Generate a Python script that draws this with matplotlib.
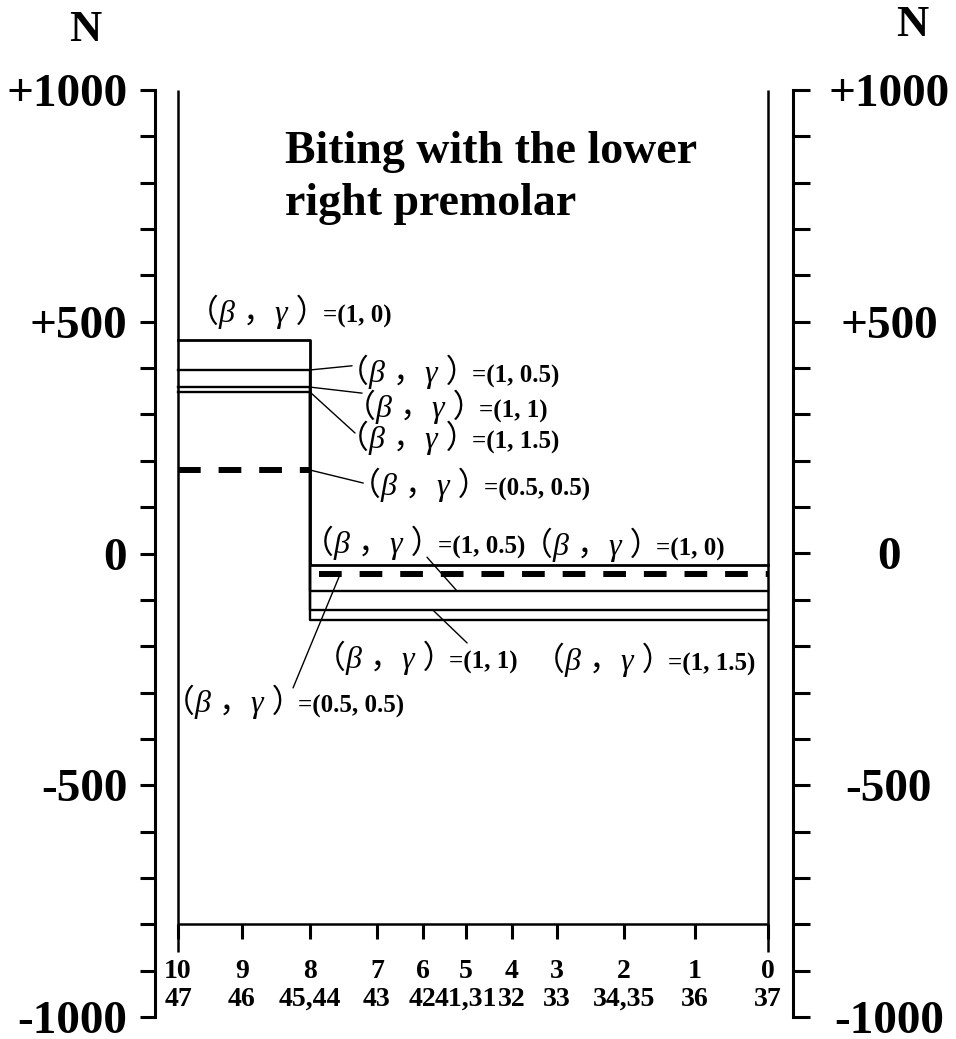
import matplotlib
matplotlib.use('Agg')
import matplotlib.pyplot as plt

plt.rcParams['font.family'] = ['Liberation Serif', 'DejaVu Serif']
plt.rcParams['font.weight'] = 'bold'

# teeth along the lower arch: contact number, tooth id, position (0..100)
tooth_no = [10, 9, 8, 7, 6, 5, 4, 3, 2, 1, 0]
tooth_id = ['47', '46', '45,44', '43', '42', '41,31', '32', '33', '34,35', '36', '37']
arch_pos = [0, 10.8, 22.4, 33.7, 41.5, 48.8, 56.6, 64.2, 75.6, 87.6, 100]

# (beta, gamma) cases; N on the loaded side of tooth 8 and on the other side
cases = ['(1, 0)', '(1, 0.5)', '(1, 1)', '(1, 1.5)', '(0.5, 0.5)']
n_left = [460, 396, 359, 348, 180]
n_right = [-25, -81, -122, -143, -44]

y_ticks = list(range(-1000, 1001, 100))
y_names = {1000: '+1000', 500: '+500', 0: '0', -500: '-500', -1000: '-1000'}

W, H = 956, 1039
fig = plt.figure(figsize=(W / 100, H / 100), dpi=100)
ax = fig.add_axes([155 / W, 1 - 1017 / H, (793 - 155) / W, (1017 - 90) / H])
ax.set_xlim(-3.9, 104.24)
ax.set_ylim(-1000, 1000)

for s in ['top', 'right']:
    ax.spines[s].set_visible(False)
ax.spines['left'].set_linewidth(2.2)
ax.spines['bottom'].set_position(('data', -800))
ax.spines['bottom'].set_visible(False)

ax.set_yticks(y_ticks)
ax.set_yticklabels([y_names.get(v, '') for v in y_ticks])
ax.tick_params(axis='y', direction='out', length=11, width=2.2, pad=9, labelsize=34)

ax.set_xticks(arch_pos)
ax.set_xticklabels([f'{n}\n{t}' for n, t in zip(tooth_no, tooth_id)], linespacing=1.15)
ax.tick_params(axis='x', direction='out', length=11, width=2.2, pad=14, labelsize=20)

ax2 = ax.twinx()
ax2.set_ylim(-1000, 1000)
for s in ['top', 'left', 'bottom']:
    ax2.spines[s].set_visible(False)
ax2.spines['right'].set_linewidth(2.2)
ax2.set_yticks(y_ticks)
ax2.set_yticklabels([y_names.get(v, '') for v in y_ticks])
ax2.tick_params(axis='y', direction='out', length=12, width=2.2, pad=57, labelsize=34)
for lab in ax2.get_yticklabels():
    lab.set_horizontalalignment('center')

# arch frame
ax.vlines([arch_pos[0], arch_pos[-1]], -860, 1000, color='k', lw=1.8)
ax.hlines(-800, arch_pos[0], arch_pos[-1], color='k', lw=1.8)

i8 = tooth_no.index(8)
for c, l, r in zip(cases, n_left, n_right):
    if c == '(0.5, 0.5)':
        ax.hlines(l, arch_pos[0], arch_pos[i8], color='k', lw=4.3, linestyles=(0, (3.8, 3)))
        ax.hlines(r, arch_pos[i8] + 1.5, arch_pos[-1], color='k', lw=4.3, linestyles=(0, (3.8, 3)))
    else:
        ax.step([arch_pos[0], arch_pos[i8], arch_pos[-1]], [l, r, r], where='post',
                color='k', lw=2.0 if c == '(1, 0)' else 1.7)

# full-width brackets come from the CJK face, the Greek letters from the serif one
greek = '（β ，γ ）'
greek_font = ['Liberation Serif', 'Noto Sans CJK JP']


def case_label(i, x, y, leader=None):
    t = ax.text(x, y, greek, fontsize=23, fontweight='normal', style='italic',
                family=greek_font, ha='left', va='center')
    ax.annotate('=' + cases[i], xy=(1, 0), xycoords=t, xytext=(-4, 1),
                textcoords='offset points', fontsize=18, fontweight='bold',
                ha='left', va='bottom')
    if leader is not None:
        side, xl, xe, ye = leader
        yl = n_left[i] if side == 'L' else n_right[i]
        ax.annotate('', xy=(xl, yl), xytext=(xe, ye),
                    arrowprops=dict(arrowstyle='-', lw=1.0, color='k', shrinkA=0, shrinkB=0))


x8 = arch_pos[i8]
case_label(0, 1.6, 521)
case_label(1, 27.0, 392, ('L', x8, 29.5, 405))
case_label(2, 28.1, 316, ('L', x8, 31.2, 346))
case_label(3, 27.0, 249, ('L', x8, 30.0, 260))
case_label(4, 28.9, 148, ('L', x8, 31.4, 152))
case_label(1, 21.1, 23, ('R', 47.3, 42.2, -8))
case_label(0, 58.1, 18)
case_label(2, 23.0, -225, ('R', 43.2, 49.0, -193))
case_label(3, 60.1, -230)
case_label(4, -2.6, -320, ('R', 27.5, 19.5, -290))

ax.text(18.1, 842, 'Biting with the lower', fontsize=33, ha='left', va='baseline')
ax.text(18.1, 730, 'right premolar', fontsize=33, ha='left', va='baseline')

fig.text(85 / W, 1 - 30 / H, 'N', fontsize=32, ha='center', va='center')
fig.text(912 / W, 1 - 25 / H, 'N', fontsize=32, ha='center', va='center')

fig.savefig('out.png', dpi=100)
